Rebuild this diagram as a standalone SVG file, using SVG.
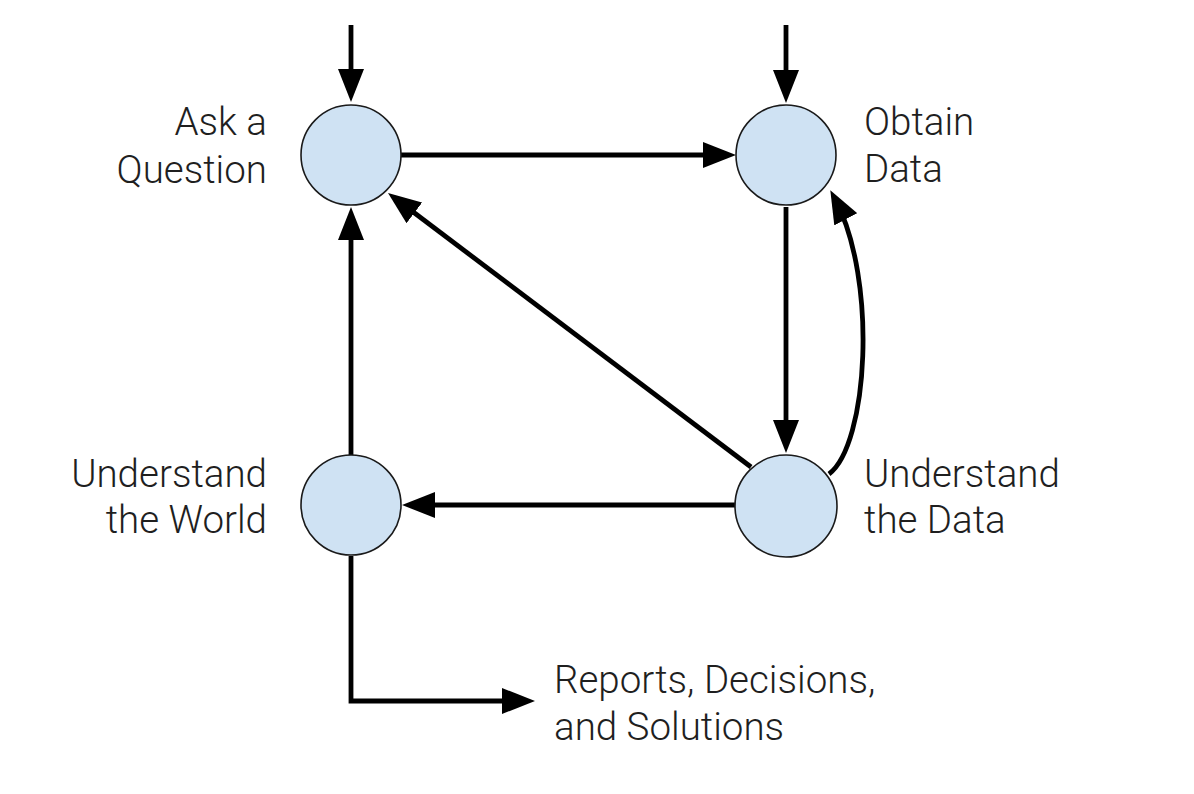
<svg xmlns="http://www.w3.org/2000/svg" width="1194" height="794" viewBox="0 0 1194 794">
  <style>
    .node circle { fill: #cfe2f3; stroke: #1a1a1a; stroke-width: 1.6; }
    .label { font-family: Roboto, "Liberation Sans", sans-serif; font-weight: 300; font-size: 38.5px; fill: #1f1f1f; }
    .end { text-anchor: end; }
    .edge { fill: none; stroke: #000; stroke-width: 4.8; marker-end: url(#head); }
  </style>
  <defs>
    <marker id="head" markerUnits="userSpaceOnUse" viewBox="0 0 33 26" markerWidth="33" markerHeight="26" refX="23" refY="13" orient="auto">
      <path d="M0,0 L33,13 L0,26 z" fill="#000"/>
    </marker>
  </defs>
  <rect width="1194" height="794" fill="#fff"/>

  <g id="connectors">
    <path class="edge" d="M351,25 V92"/>
    <path class="edge" d="M786,25 V93"/>
    <path class="edge" d="M401,155 H726"/>
    <path class="edge" d="M786,207 V443"/>
    <path class="edge" d="M737,505 H412"/>
    <path class="edge" d="M351,455 V217"/>
    <path class="edge" d="M751,467 L396,199"/>
    <path class="edge" d="M829,474 C868,445 878,280 835,199"/>
    <path class="edge" d="M351,556 V701 H525"/>
  </g>

  <g id="ask-question" class="node">
    <circle cx="351" cy="155" r="50"/>
    <text class="label end" x="267" y="135">Ask a</text>
    <text class="label end" x="267" y="183">Question</text>
  </g>
  <g id="obtain-data" class="node">
    <circle cx="786" cy="155" r="50"/>
    <text class="label" x="864" y="135">Obtain</text>
    <text class="label" x="864" y="182">Data</text>
  </g>
  <g id="understand-world" class="node">
    <circle cx="351" cy="505" r="50"/>
    <text class="label end" x="267" y="487">Understand</text>
    <text class="label end" x="267" y="533">the World</text>
  </g>
  <g id="understand-data" class="node">
    <circle cx="786" cy="506" r="51"/>
    <text class="label" x="864" y="487">Understand</text>
    <text class="label" x="864" y="533">the Data</text>
  </g>
  <g id="outcomes">
    <text class="label" x="554" y="693">Reports, Decisions,</text>
    <text class="label" x="554" y="740">and Solutions</text>
  </g>
</svg>
